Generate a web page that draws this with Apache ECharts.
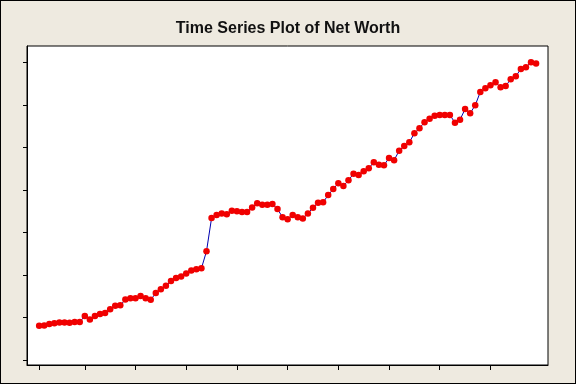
<!DOCTYPE html>
<html>
<head>
<meta charset="utf-8">
<script src="https://cdn.jsdelivr.net/npm/echarts@6/dist/echarts.min.js"></script>
<style>
html,body{margin:0;padding:0;background:#EEEAE0;}
#c{width:576px;height:384px;box-sizing:border-box;border:1px solid #000;}
</style>
</head>
<body>
<div id="c"></div>
<script>
const title = "Time Series Plot of Net Worth";
const index = Array.from({length: 99}, (_, i) => i + 1);
const netWorth = [
  8.1, 8.2, 8.5, 8.7, 8.9, 8.9, 8.8, 9.0, 9.0, 10.4,
  9.6, 10.4, 10.9, 11.1, 12.0, 12.8, 12.9, 14.3, 14.6, 14.6,
  15.1, 14.6, 14.2, 15.8, 16.7, 17.5, 18.6, 19.3, 19.7, 20.4,
  21.1, 21.4, 21.6, 25.6, 33.4, 34.1, 34.5, 34.3, 35.1, 35.0,
  34.8, 34.8, 35.9, 36.9, 36.5, 36.5, 36.7, 35.5, 33.6, 33.1,
  34.1, 33.6, 33.3, 34.5, 35.8, 37.0, 37.1, 38.8, 40.2, 41.6,
  40.9, 42.3, 43.8, 43.5, 44.4, 45.1, 46.5, 45.9, 45.8, 47.5,
  47.0, 49.2, 50.3, 51.2, 53.3, 54.5, 55.9, 56.7, 57.4, 57.6,
  57.6, 57.6, 55.8, 56.5, 59.0, 58.0, 59.9, 63.0, 63.9, 64.6,
  65.3, 64.1, 64.4, 66.0, 66.7, 68.4, 68.8, 70.0, 69.7
];
const xTicks = [1, 10, 20, 30, 40, 50, 60, 70, 80, 90];
const yTicks = [0, 10, 20, 30, 40, 50, 60, 70];

const chart = echarts.init(document.getElementById('c'), null, {renderer: 'canvas'});
chart.setOption({
  animation: false,
  backgroundColor: '#EEEAE0',
  title: {
    text: title,
    left: 'center',
    top: 15,
    textStyle: {fontFamily: 'Liberation Sans', fontWeight: 'bold', fontSize: 16, color: '#111'}
  },
  grid: {
    left: 26, right: 27, top: 45, bottom: 18,
    show: true, backgroundColor: '#fff', borderColor: '#000', borderWidth: 1,
    containLabel: false
  },
  xAxis: {
    type: 'value',
    min: -1.4, max: 101.35,
    splitLine: {show: false},
    axisLine: {show: true, onZero: false, lineStyle: {color: '#000', width: 1}},
    axisTick: {show: true, length: 5, lineStyle: {color: '#000'}, customValues: xTicks},
    axisLabel: {show: false}
  },
  yAxis: {
    type: 'value',
    min: -1.1, max: 73.8,
    splitLine: {show: false},
    axisLine: {show: true, onZero: false, lineStyle: {color: '#000', width: 1}},
    axisTick: {show: true, length: 4, lineStyle: {color: '#000'}, customValues: yTicks},
    axisLabel: {show: false}
  },
  series: [{
    type: 'line',
    data: index.map((x, i) => [x, netWorth[i]]),
    symbol: 'circle',
    symbolSize: 6.5,
    showSymbol: true,
    lineStyle: {color: '#0000B0', width: 1},
    itemStyle: {color: '#F00000', borderWidth: 0}
  }]
});
</script>
</body>
</html>
